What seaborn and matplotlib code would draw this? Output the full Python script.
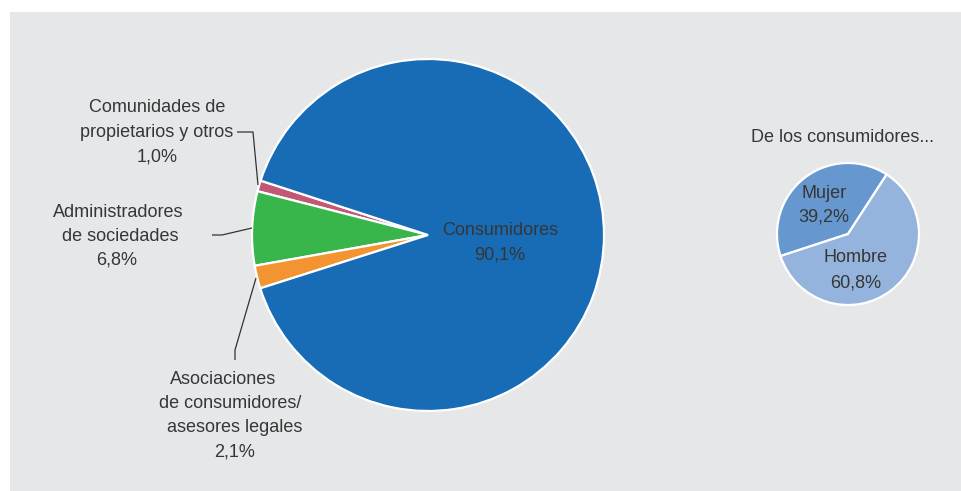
import matplotlib
matplotlib.use("Agg")
import matplotlib.pyplot as plt
from matplotlib.patches import Rectangle
import seaborn as sns

# --- data -------------------------------------------------------------
segment_labels = [
    "Comunidades de\npropietarios y otros",
    "Administradores\nde sociedades",
    "Asociaciones\nde consumidores/\nasesores legales",
    "Consumidores",
]
segment_values = [1.0, 6.8, 2.1, 90.1]

gender_labels = ["Mujer", "Hombre"]
gender_values = [39.2, 60.8]

subtitle = "De los consumidores..."

# --- style ------------------------------------------------------------
sns.set_style("white")
plt.rcParams["font.family"] = ["Liberation Sans", "DejaVu Sans"]

segment_colors = sns.color_palette(["#C25876", "#38B54B", "#F39432", "#176CB5"])
gender_colors = sns.color_palette(["#6698CF", "#94B4DE"])
text_color = "#363636"
panel_color = "#E6E7E9"
fs = 13.0

W, H = 962, 491
fig = plt.figure(figsize=(W / 100, H / 100), dpi=100, facecolor="white")
ax = fig.add_axes([0, 0, 1, 1])
ax.set_facecolor("white")

# grey panel behind the charts
ax.add_patch(Rectangle((10, 0), W - 10, H - 12, facecolor=panel_color,
                       edgecolor="none", zorder=0))


def fmt(v):
    return f"{v:.1f}".replace(".", ",") + "%"


def lines_at(x_list, y_list, lines):
    for x, y, s in zip(x_list, y_list, lines):
        ax.text(x, H - y, s, ha="center", va="center", fontsize=fs,
                color=text_color, zorder=5)


# --- main pie ---------------------------------------------------------
ax.pie(segment_values, colors=segment_colors, startangle=162,
       counterclock=True, center=(428, H - 235), radius=176, frame=True,
       wedgeprops=dict(edgecolor="white", linewidth=1.6))

# --- gender pie -------------------------------------------------------
ax.pie(gender_values, colors=gender_colors, startangle=57,
       counterclock=True, center=(848, H - 234), radius=71, frame=True,
       wedgeprops=dict(edgecolor="white", linewidth=1.6))

ax.set_xlim(0, W)
ax.set_ylim(0, H)
ax.set_aspect("equal")
ax.axis("off")

# --- labels -----------------------------------------------------------
# Consumidores (inside)
lines_at([500, 500], [230, 255], [segment_labels[3], fmt(segment_values[3])])

# Comunidades de propietarios y otros
l0 = segment_labels[0].split("\n") + [fmt(segment_values[0])]
lines_at([157.5, 156.5, 157], [107, 132, 157], l0)

# Administradores de sociedades
l1 = segment_labels[1].split("\n") + [fmt(segment_values[1])]
lines_at([118, 120, 117], [212, 236, 260], l1)

# Asociaciones de consumidores / asesores legales
l2 = segment_labels[2].split("\n") + [fmt(segment_values[2])]
lines_at([223, 230, 235, 235], [380, 404, 428, 452], l2)

# leader lines
leaders = [
    ([237, 253, 258], [132, 132, 185]),
    ([212, 222, 252], [235, 235, 228]),
    ([235, 235, 256], [360, 350, 278]),
]
for xs, ys in leaders:
    ax.plot(xs, [H - y for y in ys], color="#333333", lw=0.9, zorder=4,
            solid_capstyle="butt")

# gender pie labels
ax.text(843, H - 137, subtitle, ha="center", va="center", fontsize=fs,
        color=text_color)
lines_at([824, 824], [193, 217], [gender_labels[0], fmt(gender_values[0])])
lines_at([856, 856], [258, 283], [gender_labels[1], fmt(gender_values[1])])

fig.savefig("out.png", dpi=100, facecolor="white")
